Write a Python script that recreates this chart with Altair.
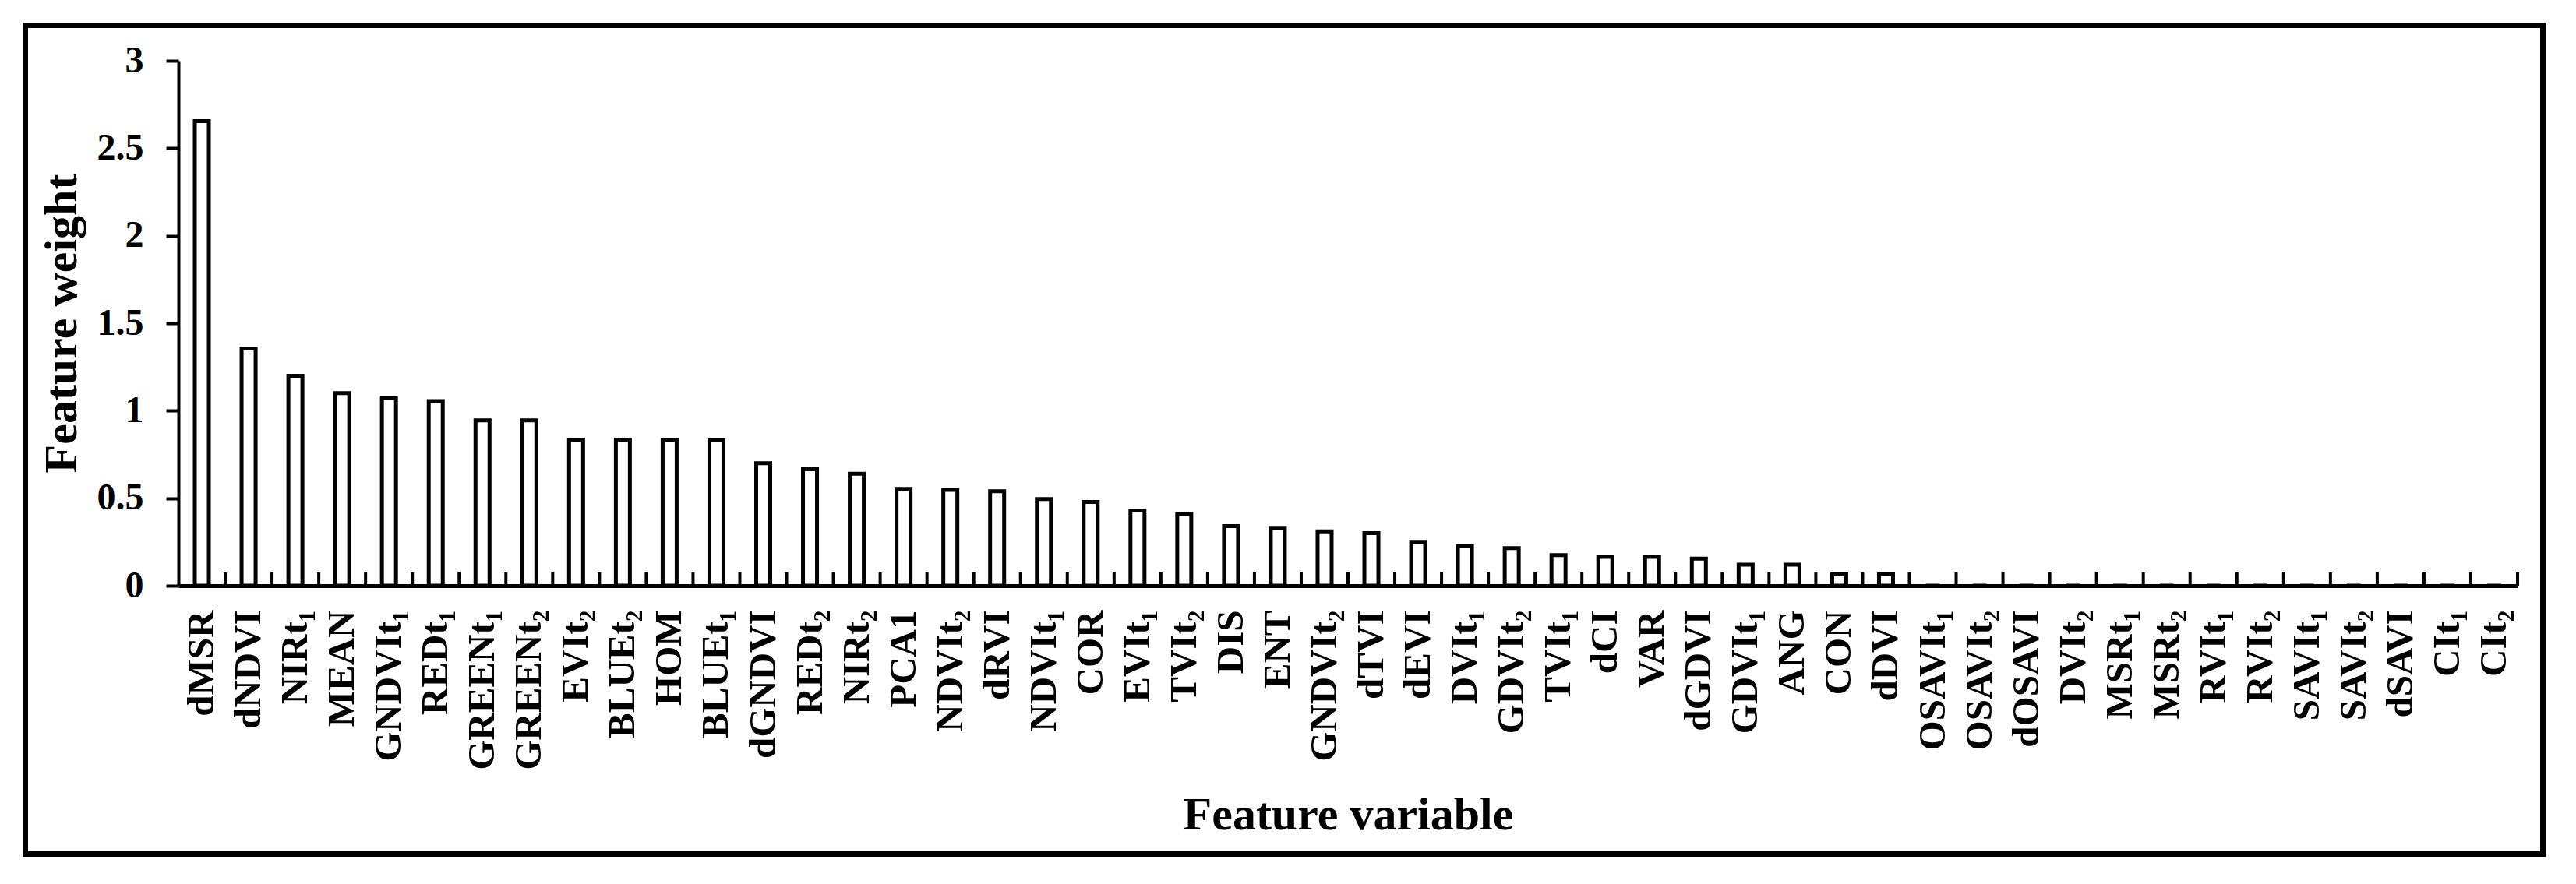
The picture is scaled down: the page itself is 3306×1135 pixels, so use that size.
import altair as alt
import pandas as pd

features = ["dMSR", "dNDVI", "NIRt₁", "MEAN", "GNDVIt₁", "REDt₁", "GREENt₁", "GREENt₂",
            "EVIt₂", "BLUEt₂", "HOM", "BLUEt₁", "dGNDVI", "REDt₂", "NIRt₂", "PCA1",
            "NDVIt₂", "dRVI", "NDVIt₁", "COR", "EVIt₁", "TVIt₂", "DIS", "ENT",
            "GNDVIt₂", "dTVI", "dEVI", "DVIt₁", "GDVIt₂", "TVIt₁", "dCI", "VAR",
            "dGDVI", "GDVIt₁", "ANG", "CON", "dDVI", "OSAVIt₁", "OSAVIt₂", "dOSAVI",
            "DVIt₂", "MSRt₁", "MSRt₂", "RVIt₁", "RVIt₂", "SAVIt₁", "SAVIt₂", "dSAVI",
            "CIt₁", "CIt₂"]

weights = [2.655, 1.355, 1.20, 1.10, 1.07, 1.055, 0.945, 0.945,
           0.835, 0.835, 0.835, 0.83, 0.70, 0.665, 0.64, 0.553,
           0.547, 0.54, 0.495, 0.478, 0.43, 0.41, 0.34, 0.33,
           0.31, 0.30, 0.25, 0.225, 0.215, 0.175, 0.165, 0.165,
           0.155, 0.12, 0.12, 0.065, 0.065, 0.0, 0.0, 0.0,
           0.0, 0.0, 0.0, 0.0, 0.0, 0.0, 0.0, 0.0,
           0.0, 0.0]

y_ticks = [0, 0.5, 1, 1.5, 2, 2.5, 3]

df = pd.DataFrame({"feature": features, "weight": weights})

FONT = "Liberation Serif"

x_axis = alt.Axis(
    title="Feature variable",
    labelAngle=270, labelAlign="right", labelBaseline="middle",
    labelFont=FONT, labelFontWeight="bold", labelFontSize=49, labelColor="black",
    labelPadding=31, labelLimit=600, labelOverlap=False,
    ticks=False, domainColor="black", domainWidth=5, grid=False,
    titleFont=FONT, titleFontWeight="bold", titleFontSize=60, titleColor="black",
    titlePadding=65, zindex=1,
)

x_enc = alt.X("feature:N", sort=features, axis=x_axis,
              scale=alt.Scale(paddingInner=0, paddingOuter=0))

bars = alt.Chart(df).mark_bar(
    width=alt.RelativeBandSize(0.3), fill="white", stroke="black", strokeWidth=5
).encode(
    x=x_enc,
    y=alt.Y("weight:Q",
            scale=alt.Scale(domain=[0, 3], nice=False),
            axis=alt.Axis(
                title="Feature weight", values=y_ticks, format="~g",
                tickSize=16, tickWidth=4, tickColor="black",
                domainColor="black", domainWidth=4, grid=False,
                labelFont=FONT, labelFontWeight="bold", labelFontSize=48,
                labelColor="black", labelPadding=29,
                titleFont=FONT, titleFontWeight="bold", titleFontSize=60,
                titleColor="black", titlePadding=14, zindex=1,
            )),
)

sep_ticks = alt.Chart(df).mark_rule(color="black", strokeWidth=4).encode(
    x=alt.X("feature:N", sort=features, axis=x_axis, bandPosition=1,
            scale=alt.Scale(paddingInner=0, paddingOuter=0)),
    y=alt.value(674),
    y2=alt.value(657),
)

frame = alt.Chart(pd.DataFrame({"f": [0]})).mark_rect(
    fillOpacity=0, stroke="black", strokeWidth=7
).encode(
    x=alt.value(-196.5), x2=alt.value(3034.5),
    y=alt.value(-45.5), y2=alt.value(1018.5),
)

chart = alt.layer(bars, sep_ticks, frame).properties(
    width=3002, height=674,
    autosize=alt.AutoSizeParams(type="none"),
    padding={"left": 221, "top": 70, "right": 60, "bottom": 360},
    background="white",
).configure_view(strokeWidth=0)

chart.save("out.html", embed_options={"renderer": "svg", "actions": False})
